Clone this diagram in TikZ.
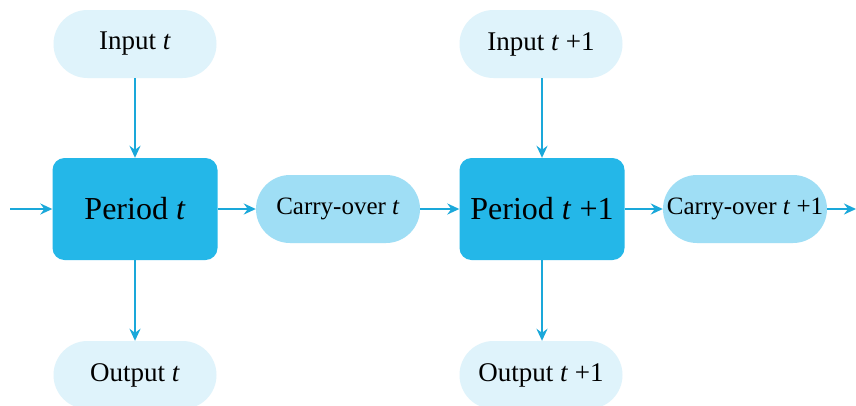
\documentclass[tikz,border=0pt]{standalone}
\usepackage{fontspec}
\setmainfont{Liberation Serif}
\usetikzlibrary{arrows.meta}
\definecolor{periodblue}{HTML}{24B7E8}
\definecolor{carryblue}{HTML}{9FDEF5}
\definecolor{paleblue}{HTML}{DFF3FB}
\definecolor{linkblue}{HTML}{1AA8DA}
\tikzset{
  period/.style={draw=none, fill=periodblue, rounded corners=12pt,
    minimum width=165pt, minimum height=102pt, inner sep=0pt,
    font=\fontsize{32}{36}\selectfont},
  carry/.style={draw=none, fill=carryblue, rounded corners=34pt,
    minimum width=164pt, minimum height=68pt, inner sep=0pt,
    font=\fontsize{25}{30}\selectfont},
  io/.style={draw=none, fill=paleblue, rounded corners=34pt,
    minimum width=163pt, minimum height=68pt, inner sep=0pt,
    font=\fontsize{27}{30}\selectfont},
  link/.style={draw=linkblue, line width=2.4pt,
    -{Stealth[length=12pt,width=11pt,inset=4pt]}},
}
\begin{document}
\begin{tikzpicture}[x=1pt,y=-1pt]
\clip (0,0) rectangle (856,405);
\fill[white] (0,0) rectangle (856,405);

% first period
\node[io]     (in1)  at (135,44)  {Input \textit{t}};
\node[period] (p1)   at (135,209) {Period \textit{t}};
\node[io]     (out1) at (135,375) {Output \textit{t}};
\node[carry]  (c1)   at (338,209) {Carry-over \textit{t}};

% second period
\node[io]     (in2)  at (541,44)  {Input \textit{t} +1};
\node[period] (p2)   at (542,209) {Period \textit{t} +1};
\node[io]     (out2) at (541,375) {Output \textit{t} +1};
\node[carry]  (c2)   at (745,209) {Carry-over \textit{t} +1};

\coordinate (entry) at (10,209);
\coordinate (exit)  at (856,209);

% connectors
\draw[link] (entry) -- (p1.west);
\draw[link] (in1) -- (p1);
\draw[link] (p1) -- (out1);
\draw[link] (p1) -- (c1);
\draw[link] (c1) -- (p2);
\draw[link] (in2.south -| p2.north) -- (p2.north);
\draw[link] (p2.south) -- (out2.north -| p2.south);
\draw[link] (p2) -- (c2);
\draw[link] (c2) -- (exit);
\end{tikzpicture}
\end{document}
